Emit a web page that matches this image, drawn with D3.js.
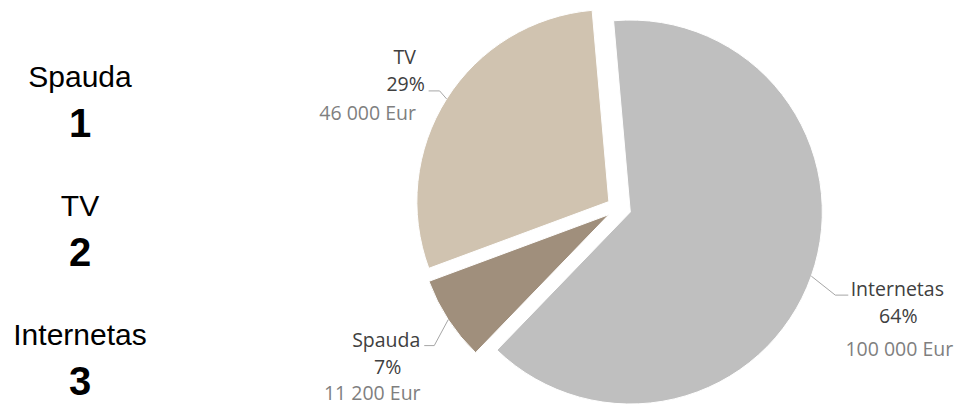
<!DOCTYPE html>
<html>
<head>
<meta charset="utf-8">
<script src="https://cdn.jsdelivr.net/npm/d3@7/dist/d3.min.js"></script>
<style>
  html, body { margin: 0; padding: 0; background: #fff; }
  svg { display: block; }
</style>
</head>
<body>
<div id="chart"></div>
<script>
// data
var categories = ["Internetas", "Spauda", "TV"];
var amounts = [100000, 11200, 46000];
var amountLabels = ["100 000 Eur", "11 200 Eur", "46 000 Eur"];
var colors = ["#bfbfbf", "#a08f7c", "#d0c3b0"];

// ranking list on the left
var rankNames = ["Spauda", "TV", "Internetas"];
var rankNumbers = ["1", "2", "3"];

var width = 957, height = 405;
var cx = 619, cy = 208, radius = 192, explode = 12;

// label placement, relative to the elbow end of each leader line
var labelLayout = [
  {elbow: [24, 19], tail: 13, lines: [[49, 1], [50, 28], [51, 61]]},
  {elbow: [-14, 26], tail: -10, lines: [[-38, 1], [-36.5, 28], [-52, 54]]},
  {elbow: [-7, -8], tail: -11, lines: [[-24, -27], [-23, 0], [-61, 29]]}
];

var svg = d3.select("#chart").append("svg")
    .attr("width", width)
    .attr("height", height);

// Left ranking
var rank = svg.append("g").attr("font-family", "'Liberation Sans', Arial, sans-serif");
rankNames.forEach(function(name, i) {
    rank.append("text")
        .attr("x", 80).attr("y", 87 + i * 129)
        .attr("text-anchor", "middle")
        .style("font-size", "30px")
        .text(name);
    rank.append("text")
        .attr("x", 80).attr("y", 137 + i * 129)
        .attr("text-anchor", "middle")
        .style("font-size", "40px")
        .style("font-weight", "bold")
        .text(rankNumbers[i]);
});

// Pie
var total = d3.sum(amounts);
var pie = d3.pie()
    .sort(null)
    .startAngle(-5 * Math.PI / 180)
    .endAngle(355 * Math.PI / 180);
var arcs = pie(amounts);
var arc = d3.arc().innerRadius(0).outerRadius(radius);

var pieG = svg.append("g").attr("transform", "translate(" + cx + "," + cy + ")");

arcs.forEach(function(a, i) {
    var mid = (a.startAngle + a.endAngle) / 2;
    var ox = explode * Math.sin(mid), oy = -explode * Math.cos(mid);
    var g = pieG.append("g").attr("transform", "translate(" + ox + "," + oy + ")");
    g.append("path")
        .attr("d", arc(a))
        .style("fill", colors[i])
        .style("stroke", "#fff")
        .style("stroke-width", 1);

    // leader line
    var px = ox + radius * Math.sin(mid), py = oy - radius * Math.cos(mid);
    var L = labelLayout[i];
    var ex = px + L.elbow[0], ey = py + L.elbow[1];
    var tx = ex + L.tail;
    pieG.append("polyline")
        .attr("points", px + "," + py + " " + ex + "," + ey + " " + tx + "," + ey)
        .style("fill", "none")
        .style("stroke", "#a6a6a6")
        .style("stroke-width", 1);

    var pct = Math.round(amounts[i] / total * 100) + "%";
    var texts = [categories[i], pct, amountLabels[i]];
    var fills = ["#404040", "#404040", "#7f7f7f"];
    texts.forEach(function(t, j) {
        pieG.append("text")
            .attr("x", tx + L.lines[j][0])
            .attr("y", ey + L.lines[j][1])
            .attr("text-anchor", "middle")
            .style("font-family", "'Open Sans', sans-serif")
            .style("font-size", "19.5px")
            .style("fill", fills[j])
            .text(t);
    });
});
</script>
</body>
</html>
